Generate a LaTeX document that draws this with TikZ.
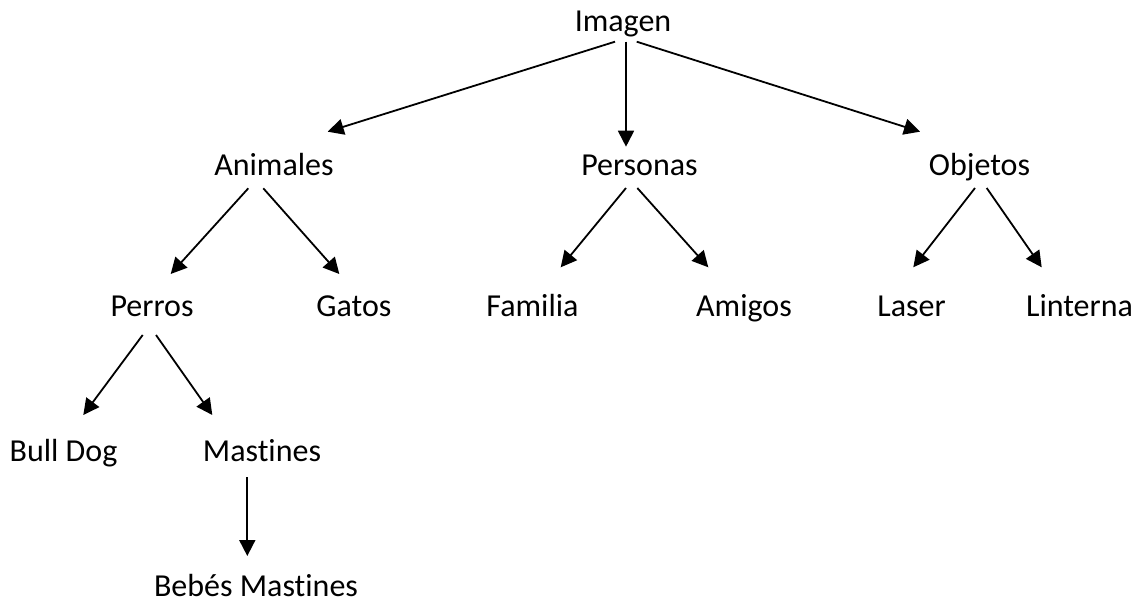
\documentclass[tikz,border=0pt]{standalone}
\usepackage{fontspec}
\setmainfont{Carlito}[Ligatures=NoCommon,RawFeature={-liga;-clig}]
\usetikzlibrary{arrows.meta,calc}
\begin{document}
\begin{tikzpicture}[x=1pt,y=-1pt,
  lbl/.style={anchor=base,inner sep=0pt,font=\fontsize{32}{38}\selectfont},
  conn/.style={line width=1.8pt,-{Triangle[length=16pt,width=16pt]}}]
\useasboundingbox (0,0) rectangle (1140,608);
\node[lbl] (imagen) at (623,31.7) {Imagen};
\node[lbl] (animales) at (274,175) {Animales};
\node[lbl] (personas) at (639.5,175) {Personas};
\node[lbl] (objetos) at (979.5,175) {Objetos};
\node[lbl] (perros) at (152,316.7) {Perros};
\node[lbl] (gatos) at (354,316.7) {Gatos};
\node[lbl] (familia) at (532.5,316.7) {Familia};
\node[lbl] (amigos) at (744,316.7) {Amigos};
\node[lbl] (laser) at (911.5,316.7) {Laser};
\node[lbl] (linterna) at (1079.5,316.7) {Linterna};
\node[lbl] (bulldog) at (63.5,461.7) {Bull Dog};
\node[lbl] (mastines) at (262,461.7) {Mastines};
\node[lbl] (bebes) at (256,596.7) {Bebés Mastines};
\draw[conn] ($(imagen.base)+(-8,10)$) -- ($(animales.base)+(53.7,-43.3)$);
\draw[conn] ($(imagen.base)+(3,10)$) -- ($(personas.base)+(-13.5,-28.3)$);
\draw[conn] ($(imagen.base)+(13.7,10)$) -- ($(objetos.base)+(-59.5,-43.3)$);
\draw[conn] ($(animales.base)+(-25.7,13.3)$) -- ($(perros.base)+(18.7,-42.7)$);
\draw[conn] ($(animales.base)+(-10.7,13.3)$) -- ($(gatos.base)+(-14.7,-42.7)$);
\draw[conn] ($(personas.base)+(-13.5,13)$) -- ($(familia.base)+(28.2,-49.4)$);
\draw[conn] ($(personas.base)+(-2.2,13)$) -- ($(amigos.base)+(-35.7,-49.4)$);
\draw[conn] ($(objetos.base)+(-4.5,13)$) -- ($(laser.base)+(1.8,-49.4)$);
\draw[conn] ($(objetos.base)+(7.2,13)$) -- ($(linterna.base)+(-37.8,-49.4)$);
\draw[conn] ($(perros.base)+(-9.3,18.3)$) -- ($(bulldog.base)+(19.8,-46.7)$);
\draw[conn] ($(perros.base)+(4,18.3)$) -- ($(mastines.base)+(-49.7,-46.7)$);
\draw[conn] ($(mastines.base)+(-14.7,15.6)$) -- ($(bebes.base)+(-8.7,-40.7)$);
\end{tikzpicture}
\end{document}
